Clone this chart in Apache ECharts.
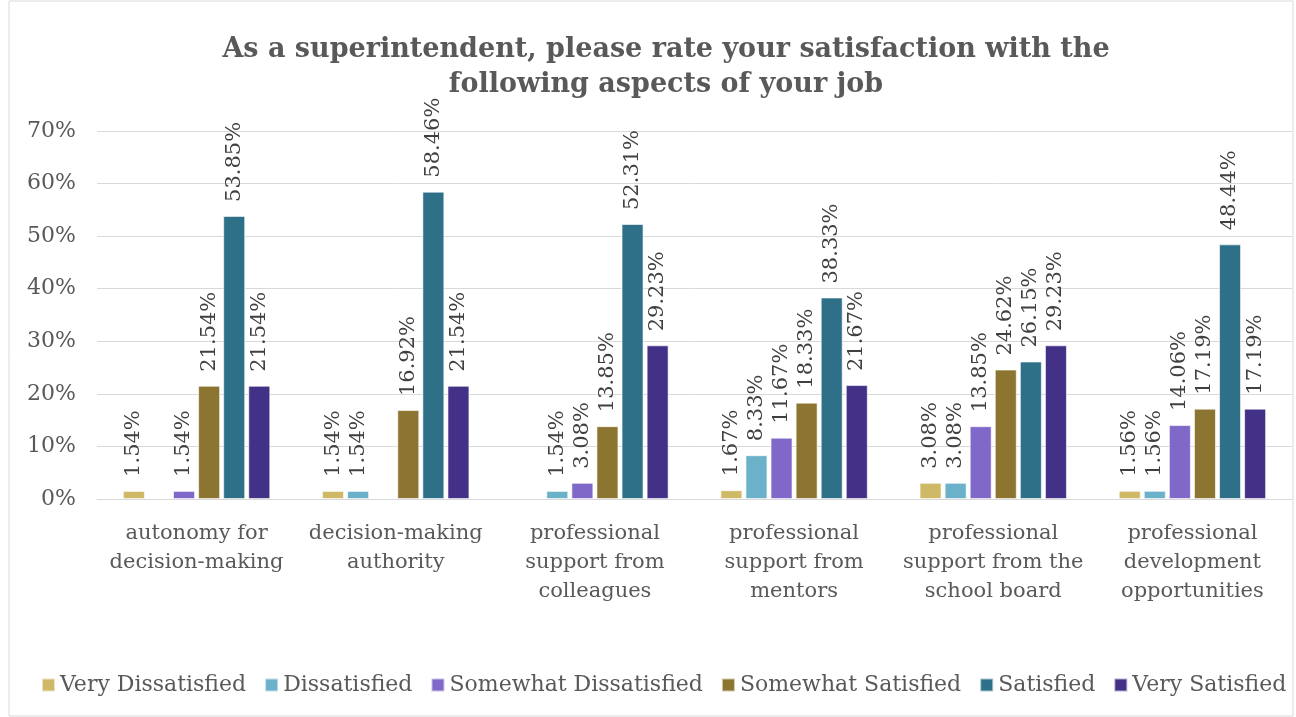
<!DOCTYPE html>
<html>
<head>
  <meta charset="UTF-8" />
  <title>Superintendent satisfaction</title>
  <script src="https://cdn.jsdelivr.net/npm/echarts@6/dist/echarts.min.js"></script>
</head>
<body style="height: 100%; margin: 0">
  <div id="container" style="width: 1296px; height: 717px"></div>
  <script type="text/javascript">
    // data
    var categories = [
      "autonomy for\ndecision-making",
      "decision-making\nauthority",
      "professional\nsupport from\ncolleagues",
      "professional\nsupport from\nmentors",
      "professional\nsupport from the\nschool board",
      "professional\ndevelopment\nopportunities"
    ];
    var seriesNames = ["Very Dissatisfied", "Dissatisfied", "Somewhat Dissatisfied", "Somewhat Satisfied", "Satisfied", "Very Satisfied"];
    var veryDissatisfied = [1.54, 1.54, null, 1.67, 3.08, 1.56];
    var dissatisfied = [null, 1.54, 1.54, 8.33, 3.08, 1.56];
    var somewhatDissatisfied = [1.54, null, 3.08, 11.67, 13.85, 14.06];
    var somewhatSatisfied = [21.54, 16.92, 13.85, 18.33, 24.62, 17.19];
    var satisfied = [53.85, 58.46, 52.31, 38.33, 26.15, 48.44];
    var verySatisfied = [21.54, 21.54, 29.23, 21.67, 29.23, 17.19];
    var colors = ["#CFB966", "#6BB1CA", "#7F68C8", "#8B7530", "#2E7088", "#433087"];

    var font = "DejaVu Serif";
    var allValues = [veryDissatisfied, dissatisfied, somewhatDissatisfied, somewhatSatisfied, satisfied, verySatisfied];

    var dom = document.getElementById("container");
    var myChart = echarts.init(dom, null, { renderer: "canvas" });

    var series = allValues.map(function (vals, i) {
      return {
        name: seriesNames[i],
        type: "bar",
        data: vals,
        barWidth: 22,
        barGap: "14%",
        itemStyle: { color: colors[i], borderColor: "rgba(255,255,255,0.6)", borderWidth: 1 },
        label: {
          show: true,
          position: "top",
          rotate: 90,
          align: "left",
          verticalAlign: "middle",
          distance: 14,
          fontFamily: font,
          fontSize: 21,
          color: "#404040",
          formatter: function (p) { return p.value.toFixed(2) + "%"; }
        }
      };
    });

    var option = {
      animation: false,
      color: colors,
      title: {
        text: "As a superintendent, please rate your satisfaction with the\nfollowing aspects of your job",
        left: 661,
        textAlign: "center",
        top: 27,
        textStyle: { fontFamily: font, fontSize: 27, fontWeight: "bold", color: "#595959", lineHeight: 35 }
      },
      legend: {
        bottom: 16,
        left: 36,
        itemWidth: 13,
        itemHeight: 13,
        itemGap: 18,
        icon: "rect",
        textStyle: { fontFamily: font, fontSize: 22, color: "#595959" },
        data: seriesNames
      },
      grid: { left: 97, right: 4, top: 131, bottom: 218 },
      xAxis: {
        type: "category",
        data: categories,
        axisLine: { lineStyle: { color: "#d9d9d9", width: 1 } },
        axisTick: { show: false },
        axisLabel: { interval: 0, fontFamily: font, fontSize: 21, color: "#595959", lineHeight: 29, margin: 20 }
      },
      yAxis: {
        type: "value",
        min: 0,
        max: 70,
        interval: 10,
        axisLine: { show: false },
        axisTick: { show: false },
        splitLine: { lineStyle: { color: "#d9d9d9", width: 1 } },
        axisLabel: { fontFamily: font, fontSize: 22, color: "#595959", margin: 21, formatter: "{value}%" }
      },
      graphic: [{
        type: "rect",
        shape: { x: 9, y: 1, width: 1284, height: 715 },
        style: { fill: "none", stroke: "#d9d9d9", lineWidth: 1 },
        silent: true
      }],
      series: series
    };
    myChart.setOption(option);
  </script>
</body>
</html>
